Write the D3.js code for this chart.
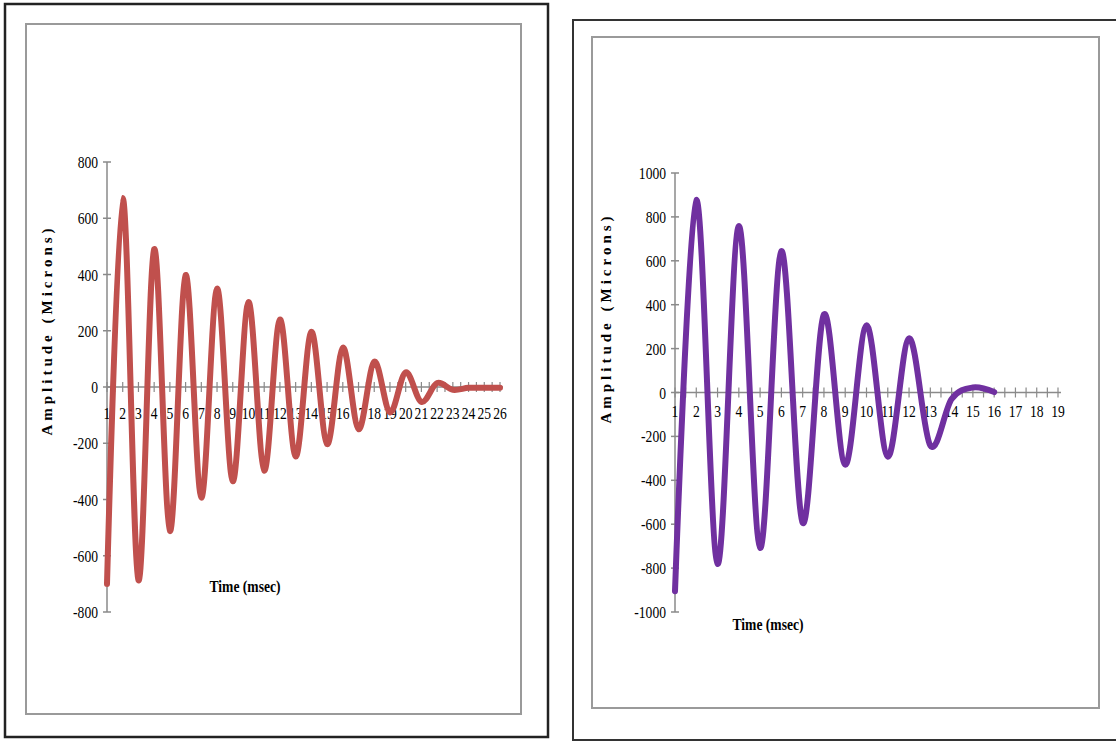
<!DOCTYPE html>
<html>
<head>
<meta charset="utf-8">
<script src="https://cdn.jsdelivr.net/npm/d3@7"></script>
<style>
  body { margin: 0; background: #fff; }
  svg { display: block; }
  text { font-family: "Liberation Serif", "Times New Roman", serif; fill: #000; }
</style>
</head>
<body>
<svg id="chart" width="1116" height="742"></svg>
<script>
// amplitude per millisecond
const leftTime = d3.range(1, 27);
const leftAmp = [-700, 672, -687, 490, -512, 398, -393, 350, -335, 302, -297, 240, -247, 196,
                 -203, 140, -150, 90, -90, 52, -53, 14, -10, -3, -3, -3];

const rightTime = d3.range(1, 17);
const rightAmp = [-905, 877, -781, 758, -708, 644, -594, 356, -329, 306, -292, 247, -242, -30, 23, 2];

const leftTicksY = [-800, -600, -400, -200, 0, 200, 400, 600, 800];
const rightTicksY = [-1000, -800, -600, -400, -200, 0, 200, 400, 600, 800, 1000];

const svg = d3.select('#chart');

// outer frames and inner (chart area) frames
function frame(x, y, w, h, color, width) {
    svg.append('rect')
        .attr('x', x).attr('y', y)
        .attr('width', w).attr('height', h)
        .attr('fill', 'none')
        .attr('stroke', color)
        .attr('stroke-width', width);
}
frame(5, 4, 543, 733, '#222', 2.5);
frame(26, 24, 495, 690, '#9a9a9a', 2);
frame(573, 20, 560, 720, '#333', 2);
frame(592, 37, 507, 671, '#9a9a9a', 2);

function drawChart(cfg) {
    const x = d3.scaleLinear().domain(cfg.xDomain).range(cfg.xRange);
    const y = d3.scaleLinear().domain(cfg.yDomain).range(cfg.yRange);
    const g = svg.append('g');
    const axisColor = '#8a8a8a';
    const x0 = x(cfg.xDomain[0]);
    const y0 = y(0);

    // y axis
    g.append('line')
        .attr('x1', x0).attr('x2', x0)
        .attr('y1', y(cfg.yDomain[1])).attr('y2', y(cfg.yDomain[0]))
        .attr('stroke', axisColor).attr('stroke-width', 1.5);
    g.selectAll('.ytick')
        .data(cfg.yTicks)
        .join('line')
        .attr('x1', x0 - 4).attr('x2', x0 + 4)
        .attr('y1', d => y(d)).attr('y2', d => y(d))
        .attr('stroke', axisColor).attr('stroke-width', 1.5);
    g.selectAll('.ylab')
        .data(cfg.yTicks)
        .join('text')
        .attr('transform', d => `translate(${x0 - 9}, ${y(d) + 6}) scale(0.8, 1)`)
        .attr('text-anchor', 'end')
        .attr('font-size', 17)
        .text(d => d);

    // x axis (category ticks every half step)
    g.append('line')
        .attr('x1', x0).attr('x2', x(cfg.xDomain[1]) + 3)
        .attr('y1', y0).attr('y2', y0)
        .attr('stroke', axisColor).attr('stroke-width', 1.5);
    g.selectAll('.xtick')
        .data(d3.range(cfg.xDomain[0], cfg.xDomain[1] + 0.01, 0.5))
        .join('line')
        .attr('x1', d => x(d)).attr('x2', d => x(d))
        .attr('y1', y0 - 5).attr('y2', y0 + 5)
        .attr('stroke', axisColor).attr('stroke-width', 1.2);
    g.selectAll('.xlab')
        .data(d3.range(cfg.xDomain[0], cfg.xDomain[1] + 1))
        .join('text')
        .attr('transform', d => `translate(${x(d)}, ${cfg.xLabelY}) scale(0.8, 1)`)
        .attr('text-anchor', 'middle')
        .attr('font-size', 17)
        .text(d => d);

    // the damped signal
    const line = d3.line()
        .x((d, i) => x(cfg.time[i]))
        .y(d => y(d))
        .curve(d3.curveCardinal.tension(0));
    g.append('path')
        .datum(cfg.amp)
        .attr('d', line)
        .attr('fill', 'none')
        .attr('stroke', cfg.color)
        .attr('stroke-width', 6)
        .attr('stroke-linejoin', 'round')
        .attr('stroke-linecap', 'round');

    // titles
    g.append('text')
        .attr('transform', `translate(${cfg.xTitle[0]}, ${cfg.xTitle[1]}) scale(0.8, 1)`)
        .attr('text-anchor', 'middle')
        .attr('font-size', 17)
        .attr('font-weight', 'bold')
        .text('Time (msec)');
    g.append('text')
        .attr('transform', `translate(${cfg.yTitle[0]}, ${cfg.yTitle[1]}) rotate(-90)`)
        .attr('text-anchor', 'middle')
        .attr('font-size', 15)
        .attr('font-weight', 'bold')
        .attr('letter-spacing', 4)
        .text('Amplitude (Microns)');
}

drawChart({
    time: leftTime, amp: leftAmp, color: '#c0504d',
    xDomain: [1, 26], xRange: [107, 500],
    yDomain: [-800, 800], yRange: [612, 162],
    yTicks: leftTicksY, xLabelY: 419,
    xTitle: [245, 592], yTitle: [52, 330]
});

drawChart({
    time: rightTime, amp: rightAmp, color: '#7030a0',
    xDomain: [1, 19], xRange: [675, 1058],
    yDomain: [-1000, 1000], yRange: [612, 173],
    yTicks: rightTicksY, xLabelY: 417,
    xTitle: [768, 630], yTitle: [611, 318]
});
</script>
</body>
</html>
